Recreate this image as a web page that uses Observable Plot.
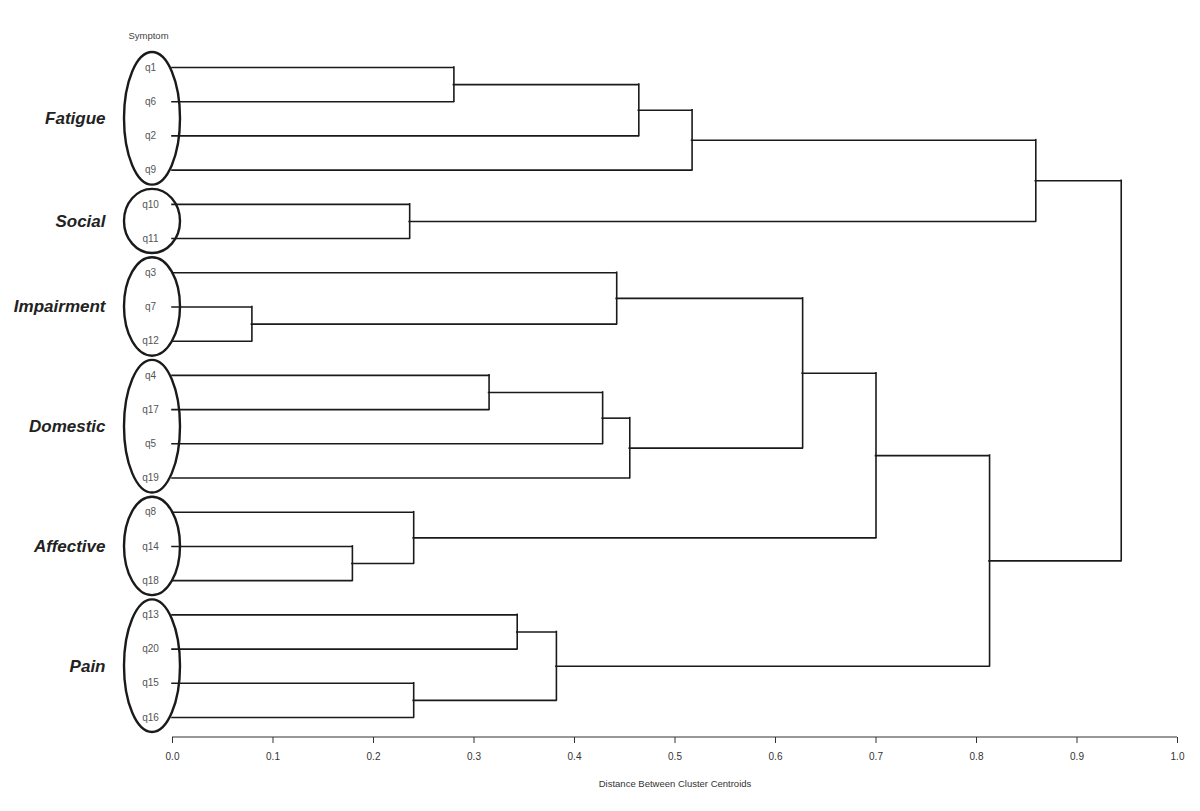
<!DOCTYPE html>
<html>
<head>
<meta charset="utf-8">
<script src="https://cdn.jsdelivr.net/npm/d3@7"></script>
<script src="https://cdn.jsdelivr.net/npm/@observablehq/plot@0.6"></script>
<style>
  html, body { margin: 0; padding: 0; background: #fff; }
  #chart svg { display: block; }
</style>
</head>
<body>
<div id="chart"></div>
<script>
// Leaves in dendrogram order (top to bottom)
const leaves = ["q1","q6","q2","q9","q10","q11","q3","q7","q12","q4","q17","q5","q19","q8","q14","q18","q13","q20","q15","q16"];

// Merges (node n1..n19 in order): left child, right child, merge distance
const mergeLeft   = ["q1","n1","n2","q10","n3","q7","q3","q4","n8","n9","n7","q14","q8","n11","q13","q15","n15","n14","n5"];
const mergeRight  = ["q6","q2","q9","q11","n4","q12","n6","q17","q5","q19","n10","q18","n12","n13","q20","q16","n16","n17","n18"];
const mergeHeight = [0.280,0.464,0.517,0.236,0.859,0.079,0.442,0.315,0.428,0.455,0.627,0.179,0.240,0.700,0.343,0.240,0.382,0.813,0.944];

// Symptom groups
const groupNames = ["Fatigue","Social","Impairment","Domestic","Affective","Pain"];
const groupFirst = ["q1","q10","q3","q4","q8","q13"];
const groupLast  = ["q9","q11","q12","q19","q18","q16"];

// Axis
const xTicks = [0,0.1,0.2,0.3,0.4,0.5,0.6,0.7,0.8,0.9,1.0];
const xTitle = "Distance Between Cluster Centroids";
const headerLabel = "Symptom";

// Build dendrogram segments from the merge tables
const pos = new Map();
leaves.forEach((l, i) => pos.set(l, {x: 0, y: i}));
const horiz = [], vert = [];
mergeHeight.forEach((h, i) => {
  const a = pos.get(mergeLeft[i]), b = pos.get(mergeRight[i]);
  horiz.push({y: a.y, x1: a.x, x2: h});
  horiz.push({y: b.y, x1: b.x, x2: h});
  vert.push({x: h, y1: a.y, y2: b.y});
  pos.set("n" + (i + 1), {x: h, y: (a.y + b.y) / 2});
});

const groups = groupNames.map((name, i) => ({
  name,
  i1: leaves.indexOf(groupFirst[i]),
  i2: leaves.indexOf(groupLast[i])
}));

const ink = "#1a1a1a";

const ellipses = (index, scales) => {
  const g = d3.create("svg:g").attr("fill", "none").attr("stroke", ink).attr("stroke-width", 2.4);
  for (const gr of groups) {
    const y1 = scales.y(gr.i1), y2 = scales.y(gr.i2);
    g.append("ellipse")
      .attr("cx", scales.x(0) - 20)
      .attr("cy", (y1 + y2) / 2)
      .attr("rx", 28)
      .attr("ry", (y2 - y1) / 2 + 15);
  }
  return g.node();
};

const baseline = (index, scales, values, dims) => {
  const y = dims.height - dims.marginBottom;
  return d3.create("svg:line")
    .attr("x1", scales.x(0)).attr("x2", scales.x(1))
    .attr("y1", y).attr("y2", y)
    .attr("stroke", "#333").attr("stroke-width", 1.2).node();
};

const chart = Plot.plot({
  width: 1200,
  height: 811,
  marginLeft: 172,
  marginRight: 23,
  marginTop: 20,
  marginBottom: 74,
  style: {fontFamily: "'Liberation Sans', Arial, sans-serif", color: "#333", background: "#fff"},
  x: {domain: [0, 1], axis: null},
  y: {domain: [0, 19], range: [67, 717], axis: null},
  marks: [
    Plot.ruleY(horiz, {y: "y", x1: "x1", x2: "x2", stroke: ink, strokeWidth: 1.6, strokeLinecap: "square"}),
    Plot.ruleX(vert, {x: "x", y1: "y1", y2: "y2", stroke: ink, strokeWidth: 1.6, strokeLinecap: "square"}),
    ellipses,
    Plot.text(leaves, {x: 0, y: (d, i) => i, dx: -22, text: d => d, fill: "#555", fontSize: 10, textAnchor: "middle"}),
    Plot.text(groups, {x: 0, y: d => (d.i1 + d.i2) / 2, dx: -67, text: "name", fill: "#222", fontSize: 17, fontWeight: "bold", fontStyle: "italic", textAnchor: "end"}),
    Plot.text([headerLabel], {x: 0, y: 0, dx: -24, dy: -32, text: d => d, fill: "#444", fontSize: 9.5, textAnchor: "middle"}),
    baseline,
    Plot.axisX(xTicks, {anchor: "bottom", tickSize: 6, tickPadding: 9, tickFormat: d3.format(".1f"), fontSize: 10, label: null, stroke: "#333", color: "#333"}),
    Plot.text([xTitle], {frameAnchor: "bottom", dy: 49, text: d => d, fill: "#333", fontSize: 9.5})
  ]
});

document.getElementById("chart").appendChild(chart);
</script>
</body>
</html>
